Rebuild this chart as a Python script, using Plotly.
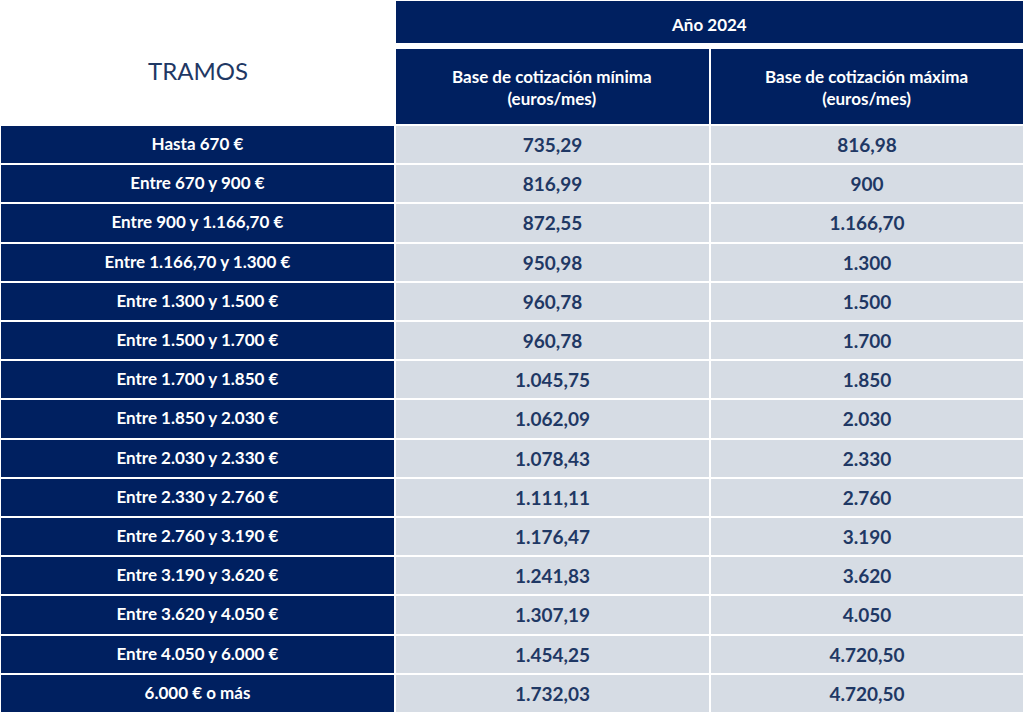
import plotly.graph_objects as go

# Bases de cotización autónomos 2024 por tramos de rendimientos
tramos = [
    "Hasta 670 €",
    "Entre 670 y 900 €",
    "Entre 900 y 1.166,70 €",
    "Entre 1.166,70 y 1.300 €",
    "Entre 1.300 y 1.500 €",
    "Entre 1.500 y 1.700 €",
    "Entre 1.700 y 1.850 €",
    "Entre 1.850 y 2.030 €",
    "Entre 2.030 y 2.330 €",
    "Entre 2.330 y 2.760 €",
    "Entre 2.760 y 3.190 €",
    "Entre 3.190 y 3.620 €",
    "Entre 3.620 y 4.050 €",
    "Entre 4.050 y 6.000 €",
    "6.000 € o más",
]
base_minima = [735.29, 816.99, 872.55, 950.98, 960.78, 960.78, 1045.75, 1062.09,
               1078.43, 1111.11, 1176.47, 1241.83, 1307.19, 1454.25, 1732.03]
base_maxima = [816.98, 900, 1166.70, 1300, 1500, 1700, 1850, 2030,
               2330, 2760, 3190, 3620, 4050, 4720.50, 4720.50]

titulo_anio = "Año 2024"
col_min = "Base de cotización mínima<br>(euros/mes)"
col_max = "Base de cotización máxima<br>(euros/mes)"

NAVY = "#002060"
GRAY = "#d6dce4"
TEXT = "#1f3864"
FONT = "Lato"
W, H = 1024, 719


def euros(v):
    # formato español: punto para miles, coma para decimales
    if float(v).is_integer():
        s = f"{int(v):,}"
    else:
        s = f"{v:,.2f}"
    return s.replace(",", "X").replace(".", ",").replace("X", ".")


fig = go.Figure()

# fila superior: "Año 2024" sobre las dos columnas de datos
fig.add_trace(go.Table(
    domain=dict(x=[0, 1], y=[1 - 47 / H, 1]),
    columnwidth=[395, 629],
    header=dict(
        values=["", ""],
        fill_color=["white", NAVY],
        line=dict(color="white", width=2),
        height=44,
    ),
    cells=dict(values=[[], []], height=1),
))

fig.add_trace(go.Table(
    domain=dict(x=[0, 1], y=[0, 1 - 48 / H]),
    columnwidth=[395, 315, 314],
    header=dict(
        values=["", "", ""],
        fill_color=["white", NAVY, NAVY],
        line=dict(color="white", width=2),
        height=77,
    ),
    cells=dict(
        values=[
            [f"<b>{t}</b>" for t in tramos],
            [f"<b>{euros(v)}</b>" for v in base_minima],
            [f"<b>{euros(v)}</b>" for v in base_maxima],
        ],
        fill_color=[NAVY, GRAY, GRAY],
        line=dict(color="white", width=2),
        font=dict(family=FONT, size=[17, 19, 19], color=["white", TEXT, TEXT]),
        align="center",
        height=39.2,
    ),
))

# textos de cabecera
cabeceras = [
    ("TRAMOS", 198, 70, 24, TEXT, False),
    (titulo_anio, 709, 24, 17, "white", True),
    (col_min, 552, 87, 17, "white", True),
    (col_max, 866, 87, 17, "white", True),
]
for txt, px, py, size, color, bold in cabeceras:
    fig.add_annotation(
        text=f"<b>{txt}</b>" if bold else txt,
        x=px / W, y=1 - py / H, xref="paper", yref="paper",
        xanchor="center", yanchor="middle", align="center",
        showarrow=False, font=dict(family=FONT, size=size, color=color),
    )

fig.update_layout(
    width=W, height=H,
    margin=dict(l=0, r=0, t=0, b=0),
    paper_bgcolor="white",
)

fig.write_html("out.html", config={"displayModeBar": False},
               post_script="document.body.style.margin='0';")
